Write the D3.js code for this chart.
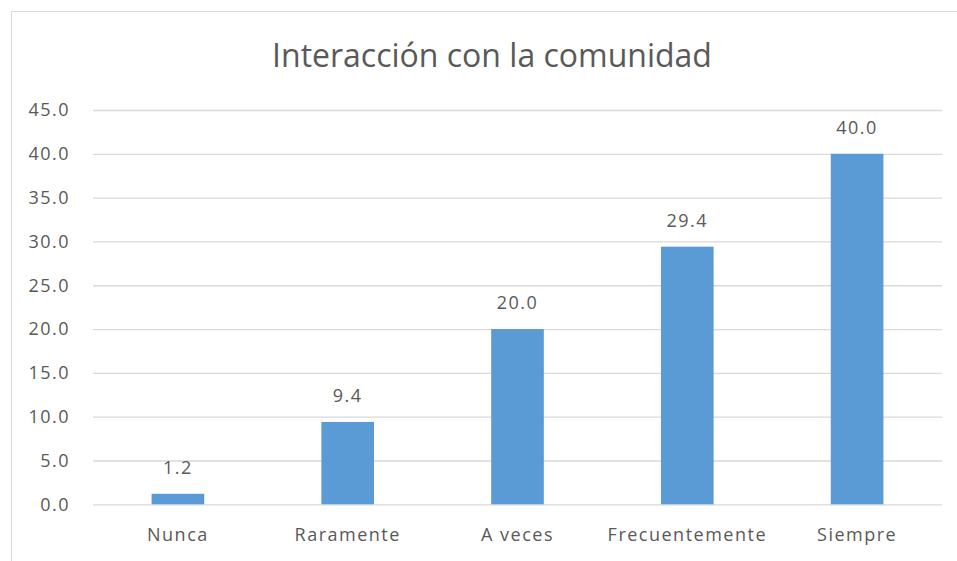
<!DOCTYPE html>
<html>
<head>
<meta charset="utf-8">
<script src="https://cdn.jsdelivr.net/npm/d3@7"></script>
<style>
  body { margin: 0; background: #fff; }
  text { font-family: "Open Sans", sans-serif; fill: #595959; }
</style>
</head>
<body>
<svg id="graph" width="957" height="561"></svg>
<script>
  var categories = ["Nunca", "Raramente", "A veces", "Frecuentemente", "Siempre"];
  var values = [1.2, 9.4, 20.0, 29.4, 40.0];
  var yTicks = [0, 5, 10, 15, 20, 25, 30, 35, 40, 45];
  var title = "Interacción con la comunidad";

  var svg = d3.select("#graph");
  var plotLeft = 93, plotRight = 942, plotTop = 110, plotBottom = 504.3;

  // chart frame
  svg.append("rect")
    .attr("x", 11.5).attr("y", 11.5)
    .attr("width", 960).attr("height", 560)
    .attr("fill", "#fff")
    .attr("stroke", "#d9d9d9");

  svg.append("text").text(title)
    .attr("x", 492)
    .attr("y", 67)
    .attr("text-anchor", "middle")
    .style("font-size", "32px");

  var x = d3.scaleBand().domain(categories).range([plotLeft, plotRight]).padding(0);
  var y = d3.scaleLinear().domain([0, 45]).range([plotBottom, plotTop]);
  var barW = x.bandwidth() * 0.31;

  // gridlines + y labels
  var yAxis = svg.append("g")
    .attr("transform", "translate(" + plotLeft + ",0)")
    .call(d3.axisLeft(y).tickValues(yTicks).tickSize(-(plotRight - plotLeft)).tickFormat(d3.format(".1f")).tickPadding(23));
  yAxis.select(".domain").remove();
  yAxis.selectAll(".tick line").attr("stroke", "#d9d9d9").attr("stroke-width", 1.3);
  yAxis.selectAll(".tick text").style("font-size", "18px").style("letter-spacing", "1.5px").attr("fill", "#595959");

  // x labels
  var xAxis = svg.append("g")
    .attr("transform", "translate(0," + plotBottom + ")")
    .call(d3.axisBottom(x).tickSize(0).tickPadding(24));
  xAxis.select(".domain").remove();
  xAxis.selectAll(".tick text").style("font-size", "18px").style("letter-spacing", "1.5px").attr("fill", "#595959");

  var bars = svg.selectAll(".bar").data(values).enter().append("g").attr("class", "bar");

  bars.append("rect")
    .attr("x", function(d, i) { return x(categories[i]) + x.bandwidth() / 2 - barW / 2; })
    .attr("y", function(d) { return y(d); })
    .attr("width", barW)
    .attr("height", function(d) { return plotBottom - y(d); })
    .attr("fill", "#5b9bd5");

  bars.append("text").text(function(d) { return d.toFixed(1); })
    .attr("x", function(d, i) { return x(categories[i]) + x.bandwidth() / 2; })
    .attr("y", function(d) { return y(d) - 20; })
    .attr("text-anchor", "middle")
    .style("font-size", "18px")
    .style("letter-spacing", "1.5px");
</script>
</body>
</html>
